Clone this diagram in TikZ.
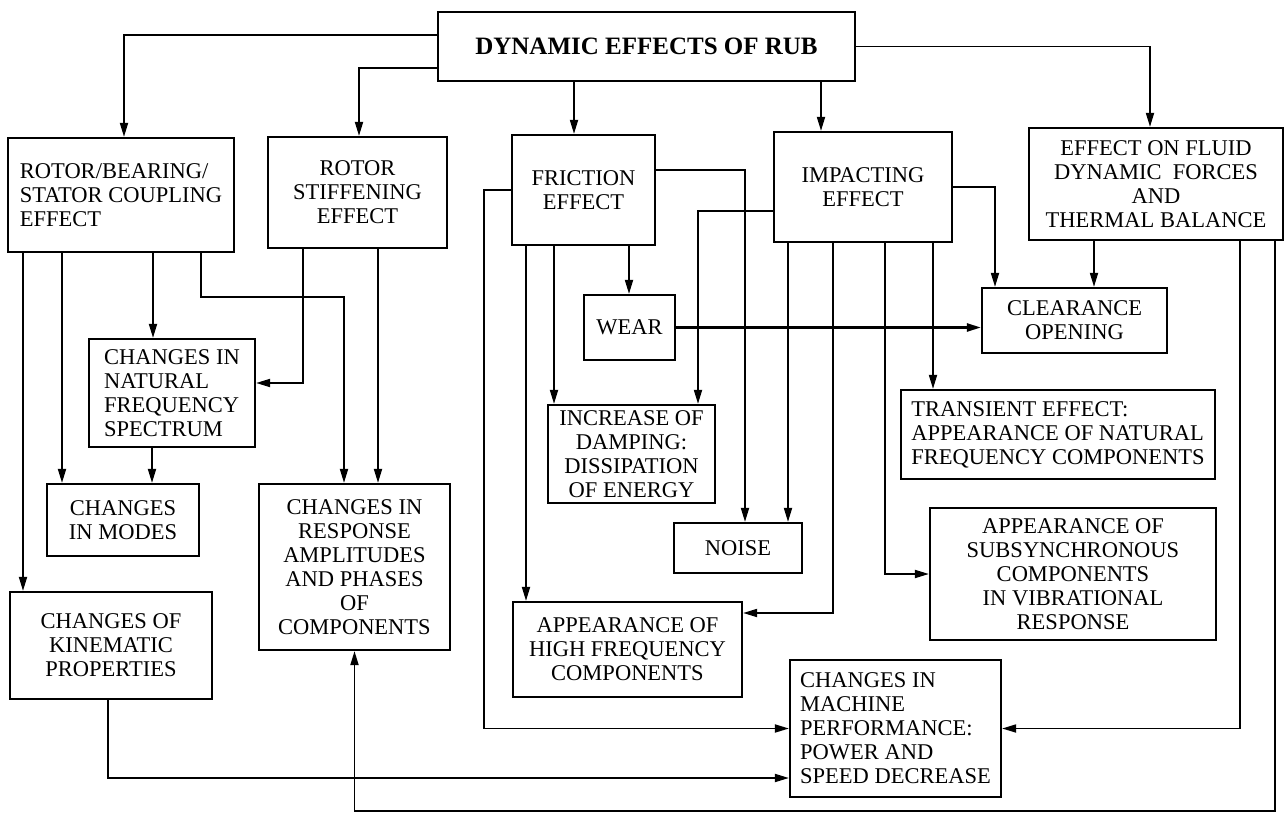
\documentclass[tikz,border=0pt]{standalone}
\usepackage{fontspec}
\setmainfont{Liberation Serif}
\usetikzlibrary{arrows.meta,calc}
\begin{document}
\begin{tikzpicture}[x=1bp,y=-1bp,
  box/.style={draw, line width=2.2bp, inner sep=0pt, font=\fontsize{22.5bp}{24bp}\selectfont},
  arr/.style={line width=1.8bp, -{Triangle[length=14bp,width=8bp]}},
  ln/.style={line width=1.8bp}]
\useasboundingbox (0,0) rectangle (1285,816);
% boxes
\node[box, minimum width=417bp, minimum height=69bp, align=center, font=\fontsize{25bp}{28bp}\selectfont\bfseries] (top) at (646.5,46.5) {DYNAMIC EFFECTS OF RUB};
\node[box, minimum width=226bp, minimum height=114bp, align=left] (rb) at (121,195) {ROTOR/BEARING/\\STATOR COUPLING\\EFFECT};
\node[box, minimum width=179bp, minimum height=111bp, align=center] (rs) at (357.5,192.5) {ROTOR\\STIFFENING\\EFFECT};
\node[box, minimum width=143bp, minimum height=110bp, align=center] (fr) at (583.5,190) {FRICTION\\EFFECT};
\node[box, minimum width=178bp, minimum height=110bp, align=center] (im) at (863,187) {IMPACTING\\EFFECT};
\node[box, minimum width=254bp, minimum height=112bp, align=center] (fl) at (1156,184) {EFFECT ON FLUID\\DYNAMIC\ \ FORCES\\AND\\THERMAL BALANCE};
\node[box, minimum width=166bp, minimum height=108bp, align=left] (nf) at (172,393) {CHANGES IN\\NATURAL\\FREQUENCY\\SPECTRUM};
\node[box, minimum width=152bp, minimum height=72bp, align=center] (modes) at (123,520) {CHANGES\\IN MODES};
\node[box, minimum width=191bp, minimum height=166bp, align=center] (resp) at (354.5,567) {CHANGES IN\\RESPONSE\\AMPLITUDES\\AND PHASES\\OF\\COMPONENTS};
\node[box, minimum width=202bp, minimum height=107bp, align=center] (kin) at (111,645.5) {CHANGES OF\\KINEMATIC\\PROPERTIES};
\node[box, minimum width=91bp, minimum height=65bp, align=center] (wear) at (629.5,327.5) {WEAR};
\node[box, minimum width=167bp, minimum height=98bp, align=center] (damp) at (631.5,454) {INCREASE OF\\DAMPING:\\DISSIPATION\\OF ENERGY};
\node[box, minimum width=128bp, minimum height=50bp, align=center] (noise) at (738,548) {NOISE};
\node[box, minimum width=229bp, minimum height=95bp, align=center] (hf) at (627.5,649.5) {APPEARANCE OF\\HIGH FREQUENCY\\COMPONENTS};
\node[box, minimum width=185bp, minimum height=65bp, align=center] (clr) at (1074.5,320.5) {CLEARANCE\\OPENING};
\node[box, minimum width=314bp, minimum height=89bp, align=left] (tr) at (1058,434.5) {TRANSIENT EFFECT:\\APPEARANCE OF NATURAL\\FREQUENCY COMPONENTS};
\node[box, minimum width=286bp, minimum height=132bp, align=center] (sub) at (1073,574) {APPEARANCE OF\\SUBSYNCHRONOUS\\COMPONENTS\\IN VIBRATIONAL\\RESPONSE};
\node[box, minimum width=211bp, minimum height=137bp, align=left] (mp) at (895.5,728.5) {CHANGES IN\\MACHINE\\PERFORMANCE:\\POWER AND\\SPEED DECREASE};
% junction coordinates
\coordinate (j1) at (344,297);
\coordinate (j2) at (484,728.5);
% from top
\draw[arr] ([yshift=11.5bp]top.west) -| ([xshift=3bp]rb.north);
\draw[arr] ([yshift=-21.5bp]top.west) -| ([xshift=1.5bp]rs.north);
\draw[arr] ([xshift=-9.5bp]fr.north |- top.south) -- ([xshift=-9.5bp]fr.north);
\draw[arr] ([xshift=-42bp]im.north |- top.south) -- ([xshift=-42bp]im.north);
\draw[arr] (top.east) -| ([xshift=-6bp]fl.north);
% from rotor/bearing
\draw[arr] ([xshift=-98bp]rb.south) -- ([xshift=-98bp]rb.south |- kin.north);
\draw[arr] ([xshift=-59bp]rb.south) -- ([xshift=-59bp]rb.south |- modes.north);
\draw[arr] ([xshift=32bp]rb.south) -- ([xshift=32bp]rb.south |- nf.north);
\draw[arr] ([xshift=80bp]rb.south) |- (j1) -- (j1 |- resp.north);
% from rotor stiffening
\draw[arr] ([xshift=-54.5bp]rs.south) |- ([yshift=10bp]nf.east);
\draw[arr] ([xshift=20.5bp]rs.south) -- ([xshift=20.5bp]rs.south |- resp.north);
% natural frequency to modes
\draw[arr] ([xshift=-20bp]nf.south) -- ([xshift=-20bp]nf.south |- modes.north);
% kinematic to machine performance
\draw[arr] ([xshift=-3bp]kin.south) |- ([yshift=-49.5bp]mp.west);
% from friction
\draw[arr] ([yshift=20bp]fr.east) -| ([xshift=7bp]noise.north);
\draw[arr] (fr.west) -| (j2) -- (mp.west);
\draw[arr] ([xshift=45.5bp]fr.south) -- ([xshift=45.5bp]fr.south |- wear.north);
\draw[arr] ([xshift=-29.5bp]fr.south) -- ([xshift=-29.5bp]fr.south |- damp.north);
\draw[arr] ([xshift=-57.5bp]fr.south) -- ([xshift=-57.5bp]fr.south |- hf.north);
% wear to clearance
\draw[arr, line width=2.4bp] (wear.east) -- (wear.east -| clr.west);
% from impacting
\draw[arr] (im.east) -| ([xshift=-79.5bp]clr.north);
\draw[arr] ([yshift=-24bp]im.west) -| ([xshift=66.5bp]damp.north);
\draw[arr] ([xshift=-75bp]im.south) -- ([xshift=-75bp]im.south |- noise.north);
\draw[arr] ([xshift=-30bp]im.south) |- ([yshift=36.5bp]hf.east);
\draw[arr] ([xshift=22bp]im.south) |- (sub.west);
\draw[arr] ([xshift=70bp]im.south) -- ([xshift=70bp]im.south |- tr.north);
% from fluid
\draw[arr] ([xshift=-62bp]fl.south) -- ([xshift=-62bp]fl.south |- clr.north);
\draw[arr] ([xshift=84bp]fl.south) |- (mp.east);
\draw[arr] ([xshift=119bp]fl.south) |- ([yshift=-160bp]resp.south) -- (resp.south);
\end{tikzpicture}
\end{document}
